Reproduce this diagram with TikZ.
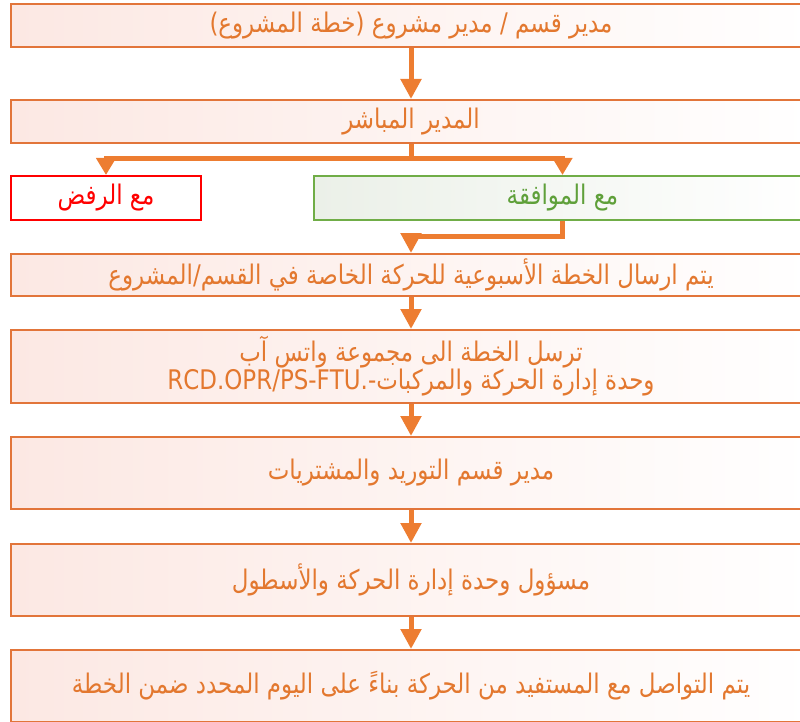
\documentclass[tikz,border=0pt]{standalone}
\usepackage{fontspec}
\usetikzlibrary{arrows.meta}
\TeXXeTstate=1
\newfontfamily\arabicfont[Script=Arabic,FakeStretch=0.85]{DejaVu Sans}
\definecolor{orline}{HTML}{E2753A}
\definecolor{ortext}{HTML}{E3782F}
\definecolor{arrowc}{HTML}{ED7D31}
\definecolor{pinkfill}{HTML}{FCE8E3}
\definecolor{grline}{HTML}{70AD47}
\definecolor{grtext}{HTML}{5FA03A}
\definecolor{grfill}{HTML}{EBF0E8}
\definecolor{rdline}{HTML}{FF0000}
\tikzset{
  txt/.style={font=\arabicfont\fontsize{27}{26}\selectfont},
  box/.style={txt, draw=orline, line width=2pt, left color=pinkfill, right color=white,
    anchor=north west, inner sep=0pt, minimum width=800pt, text=ortext, align=center},
  redbox/.style={txt, draw=rdline, line width=2pt, fill=white, anchor=north west,
    inner sep=0pt, text=rdline},
  greenbox/.style={txt, draw=grline, line width=2pt, left color=grfill, right color=white,
    anchor=north west, inner sep=0pt, text=grtext},
  arr/.style={draw=arrowc, line width=5pt, line join=miter, -{Triangle[length=20pt,width=20pt]}},
  brarr/.style={draw=arrowc, line width=5pt, line join=miter, -{Triangle[length=17pt,width=19pt]}}
}
\begin{document}
\begin{tikzpicture}[x=1pt,y=-1pt]
\useasboundingbox (0,0) rectangle (800,722);
\clip (0,0) rectangle (800,722);
\node[box, minimum height=43pt] (b1) at (10,3) {\beginR مدير قسم / مدير مشروع (خطة المشروع)\endR};
\node[box, minimum height=43pt] (b2) at (10,99) {\beginR المدير المباشر\endR};
\node[redbox, minimum width=190pt, minimum height=44pt] (rej) at (10,175) {\beginR مع الرفض\endR};
\node[greenbox, minimum width=497pt, minimum height=44pt] (acc) at (313,175) {\beginR مع الموافقة\endR};
\node[box, minimum height=42pt] (b3) at (10,253) {\beginR يتم ارسال الخطة الأسبوعية للحركة الخاصة في القسم/المشروع\endR};
\node[box, minimum height=73pt] (b4) at (10,329) {\beginR ترسل الخطة الى مجموعة واتس آب\endR\\\beginL RCD.OPR/PS-FTU.-\endL\beginR وحدة إدارة الحركة والمركبات\endR};
\node[box, minimum height=72pt] (b5) at (10,436) {\beginR مدير قسم التوريد والمشتريات\endR};
\node[box, minimum height=72pt] (b6) at (10,543) {\beginR مسؤول وحدة إدارة الحركة والأسطول\endR};
\node[box, minimum height=72pt] (b7) at (10,649) {\beginR يتم التواصل مع المستفيد من الحركة بناءً على اليوم المحدد ضمن الخطة\endR};
\draw[arr] (b1.south) -- (b2.north);
\draw[brarr] (b2.south) -- ++(0,15) -| (rej.north);
\draw[brarr] (b2.south) -- ++(0,15) -| (acc.north);
\draw[arr] (acc.south) -- ++(0,15) -| (b3.north);
\draw[arr] (b3.south) -- (b4.north);
\draw[arr] (b4.south) -- (b5.north);
\draw[arr] (b5.south) -- (b6.north);
\draw[arr] (b6.south) -- (b7.north);
\end{tikzpicture}
\end{document}
